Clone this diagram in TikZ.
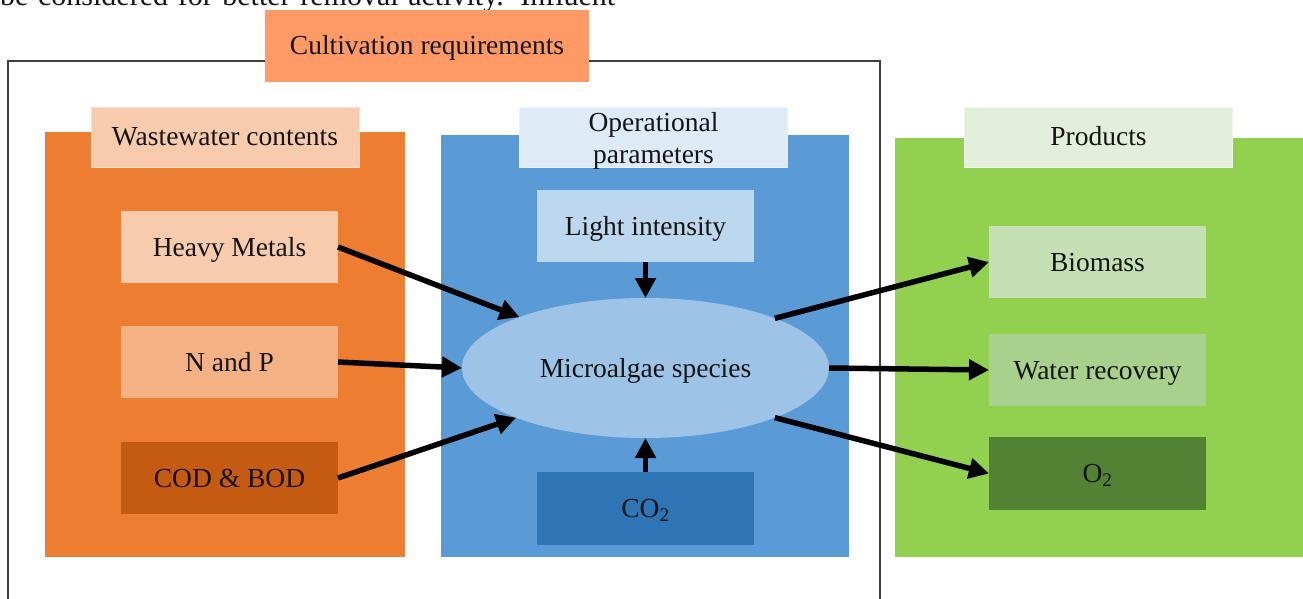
\documentclass[tikz,border=0pt]{standalone}
\usepackage{fontspec}
\setmainfont{Liberation Serif}
\usetikzlibrary{shapes.geometric,arrows.meta}

\definecolor{cultfill}{HTML}{FF9966}
\definecolor{orangepanel}{HTML}{ED7D31}
\definecolor{peach}{HTML}{F8CBAD}
\definecolor{apricot}{HTML}{F4B183}
\definecolor{rust}{HTML}{C55A11}
\definecolor{bluepanel}{HTML}{5B9BD5}
\definecolor{paleblue}{HTML}{DEEBF7}
\definecolor{lightblue}{HTML}{BDD7EE}
\definecolor{ellblue}{HTML}{9DC3E6}
\definecolor{deepblue}{HTML}{2E75B6}
\definecolor{greenpanel}{HTML}{92D050}
\definecolor{palegreen}{HTML}{E2EFDA}
\definecolor{mintgreen}{HTML}{C5E0B4}
\definecolor{sagegreen}{HTML}{A9D18E}
\definecolor{forest}{HTML}{548235}
\definecolor{framegray}{HTML}{404040}
\definecolor{ink}{HTML}{141414}

\tikzset{
  label font/.style={text=ink, font=\fontsize{27.5}{32}\selectfont},
  oneline/.style={text height=19pt, text depth=1pt},
  tag/.style={inner sep=0, outer sep=0, minimum width=268pt, minimum height=60pt,
              label font, oneline},
  item/.style={inner sep=0, outer sep=0, minimum width=217pt, minimum height=72pt,
               label font, oneline},
  flow/.style={line width=5.5pt, -{Triangle[length=20pt,width=20pt]}, draw=black}
}

\begin{document}
\begin{tikzpicture}[x=1pt,y=-1pt]
  \useasboundingbox (0,0) rectangle (1303,599);

  % running text of the page above the figure
  \node[anchor=base west, inner sep=0, text=ink, font=\fontsize{30}{32}\selectfont]
    (runtext) at (0,6) {\makebox[615pt][s]{be considered for better removal activity. Influent}};

  % outer frame for the cultivation requirements
  \draw[framegray, line width=1.6pt] (8,640) -- (8,61) -- (880,61) -- (880,640);

  % coloured panels
  \fill[orangepanel] (45,132) rectangle (405,557);
  \fill[bluepanel]   (441,135) rectangle (849,557);
  \fill[greenpanel]  (895,138) rectangle (1320,557);

  % headings
  \node[tag, fill=cultfill, minimum width=324pt, minimum height=72pt] (cult) at (427,46) {Cultivation requirements};
  \node[tag, fill=peach, draw=peach!60!white, line width=0.8pt] (wwtag) at (225,137) {Wastewater contents};
  \node[tag, fill=paleblue, draw=paleblue!60!white, line width=0.8pt] (optag) at (653.5,137) {};
  \node[inner sep=0, align=center, label font, font=\fontsize{27.5}{31.5}\selectfont]
    (optext) at ([yshift=-4pt]optag.center) {Operational\\parameters};
  \node[tag, fill=palegreen, draw=palegreen!60!white, line width=0.8pt] (prtag) at (1098.5,137) {Products};

  % wastewater contents
  \node[item, fill=peach]   (hm)  at (229.5,247) {Heavy Metals};
  \node[item, fill=apricot] (np)  at (229.5,362) {N and P};
  \node[item, fill=rust]    (cod) at (229.5,478) {COD \& BOD};

  % operational parameters
  \node[item, fill=lightblue] (li)  at (645.5,226) {Light intensity};
  \node[ellipse, fill=ellblue, inner sep=0, outer sep=0, minimum width=367pt, minimum height=140pt,
        label font, oneline] (ell) at (645.5,368) {Microalgae species};
  \node[item, fill=deepblue, minimum height=73pt] (co2) at (645.5,508.5) {CO\textsubscript{2}};

  % products
  \node[item, fill=mintgreen] (bio) at (1097.5,262) {Biomass};
  \node[item, fill=sagegreen] (wr)  at (1097.5,370) {Water recovery};
  \node[item, fill=forest, minimum height=73pt] (o2) at (1097.5,473.5) {O\textsubscript{2}};

  % inputs to the culture
  \draw[flow] (hm.east)  -- (ell.158.6);
  \draw[flow] (np.east)  -- (ell.west);
  \draw[flow] (cod.east) -- (ell.201.4);
  \draw[flow] (li.south) -- (ell.north);
  \draw[flow] (co2.north) -- (ell.south);

  % outputs of the culture
  \draw[flow] (ell.21)  -- (bio.west);
  \draw[flow] (ell.east) -- (wr.west);
  \draw[flow] (ell.-21) -- (o2.west);
\end{tikzpicture}
\end{document}
